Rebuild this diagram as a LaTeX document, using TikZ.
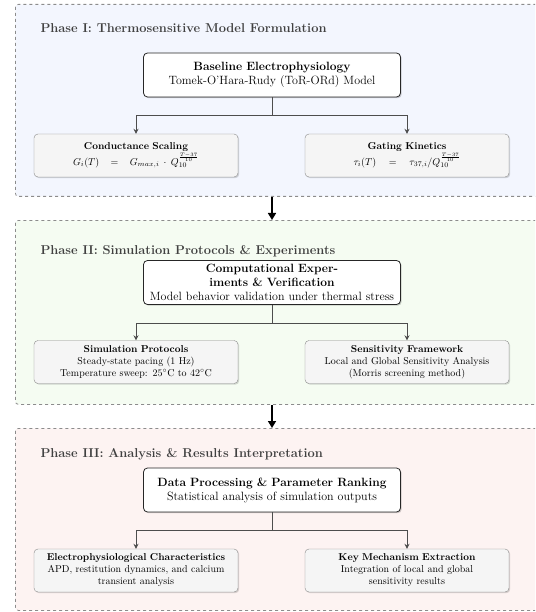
\documentclass[tikz,border=0pt]{standalone}
\usepackage{tikz}
\usetikzlibrary{arrows.meta,positioning,shadows,calc}
\usepackage{xcolor}
\usepackage{amsmath}
\definecolor{muted}{HTML}{4D4D4D}
\definecolor{frame}{HTML}{8C8C8C}
\definecolor{titlegray}{HTML}{404040}
\definecolor{phaseblue}{HTML}{F3F6FE}
\definecolor{phasegreen}{HTML}{F5FCF2}
\definecolor{phasered}{HTML}{FDF3F2}
\definecolor{childfill}{HTML}{F5F5F5}
\definecolor{childline}{HTML}{8A8A8A}
\tikzset{
  phasebox/.style={draw=frame, dashed, thick, rounded corners=3pt,
                   anchor=north west, minimum width=560pt},
  phasetitle/.style={anchor=base west, font=\fontsize{12.85}{15}\selectfont\bfseries,
                     color=titlegray},
  mainbox/.style={draw=black!85, fill=white, rounded corners=4pt, thick,
                  align=center, text width=247pt, minimum width=257pt,
                  minimum height=44pt, inner sep=1pt, font=\large,
                  drop shadow={shadow xshift=1.2pt, shadow yshift=-1.2pt,
                               fill=black, opacity=0.18}},
  childbox/.style={draw=childline, fill=childfill, rounded corners=4pt,
                   align=center, text width=202pt, minimum width=204pt,
                   minimum height=43pt, inner sep=1pt, font=\normalsize,
                   drop shadow={shadow xshift=1.2pt, shadow yshift=-1.2pt,
                                fill=black, opacity=0.15}},
  ar/.style={-{Stealth[length=5pt,width=5pt]}, line width=1pt, draw=muted},
  phasear/.style={-{Triangle[length=7pt,width=8pt]}, line width=1.6pt, draw=black}
}

\begin{document}
\begin{tikzpicture}[x=1pt,y=1pt]
  \useasboundingbox (0,0) rectangle (535,-612);
  \clip (0,0) rectangle (535,-612);

  % phase I
  \node[phasebox, fill=phaseblue, minimum height=192pt] (ph1) at (15,-4) {};
  \node[phasetitle] (t1) at (37,-33) {Phase I: Thermosensitive Model Formulation};
  \node[mainbox] (base) at (272,-75)
      {{\bfseries Baseline Electrophysiology}\\Tomek-O'Hara-Rudy (ToR-ORd) Model};
  \node[childbox] (cond) at (136,-155.5)
      {{\bfseries Conductance Scaling}\\
       $G_i(T) \ = \ G_{max,i}\cdot Q_{10}^{\frac{T-37}{10}}$};
  \node[childbox] (gate) at (407,-155.5)
      {{\bfseries Gating Kinetics}\\
       $\tau_i(T) \ = \ \tau_{37,i}/Q_{10}^{\frac{T-37}{10}}$};
  \coordinate (j1) at (272,-116);
  \draw[ar] (base.south) -- (j1) -| (cond.north);
  \draw[ar] (j1) -| (gate.north);

  % phase II
  \node[phasebox, fill=phasegreen, minimum height=184pt] (ph2) at (15,-220) {};
  \node[phasetitle] (t2) at (37,-254) {Phase II: Simulation Protocols \& Experiments};
  \node[mainbox] (comp) at (272,-282.5)
      {{\bfseries Computational Experiments \& Verification}\\
       Model behavior validation under thermal stress};
  \node[childbox] (sim) at (136,-362)
      {{\bfseries Simulation Protocols}\\
       Steady-state pacing (1 Hz)\\
       Temperature sweep: 25$^\circ$C to 42$^\circ$C};
  \node[childbox] (sens) at (407,-362)
      {{\bfseries Sensitivity Framework}\\
       Local and Global Sensitivity Analysis\\
       (Morris screening method)};
  \coordinate (j2) at (272,-323);
  \draw[ar] (comp.south) -- (j2) -| (sim.north);
  \draw[ar] (j2) -| (sens.north);

  % phase III
  \node[phasebox, fill=phasered, minimum height=182pt] (ph3) at (15,-428) {};
  \node[phasetitle] (t3) at (37,-457) {Phase III: Analysis \& Results Interpretation};
  \node[mainbox] (data) at (272,-490)
      {{\bfseries Data Processing \& Parameter Ranking}\\
       Statistical analysis of simulation outputs};
  \node[childbox] (ephys) at (136,-570.5)
      {{\bfseries Electrophysiological Characteristics}\\
       APD, restitution dynamics, and calcium\\transient analysis};
  \node[childbox] (mech) at (407,-570.5)
      {{\bfseries Key Mechanism Extraction}\\
       Integration of local and global\\sensitivity results};
  \coordinate (j3) at (272,-530);
  \draw[ar] (data.south) -- (j3) -| (ephys.north);
  \draw[ar] (j3) -| (mech.north);

  % phase links
  \draw[phasear] (ph1.south -| base.south) -- (ph2.north -| base.south);
  \draw[phasear] (ph2.south -| base.south) -- (ph3.north -| base.south);
\end{tikzpicture}
\end{document}
